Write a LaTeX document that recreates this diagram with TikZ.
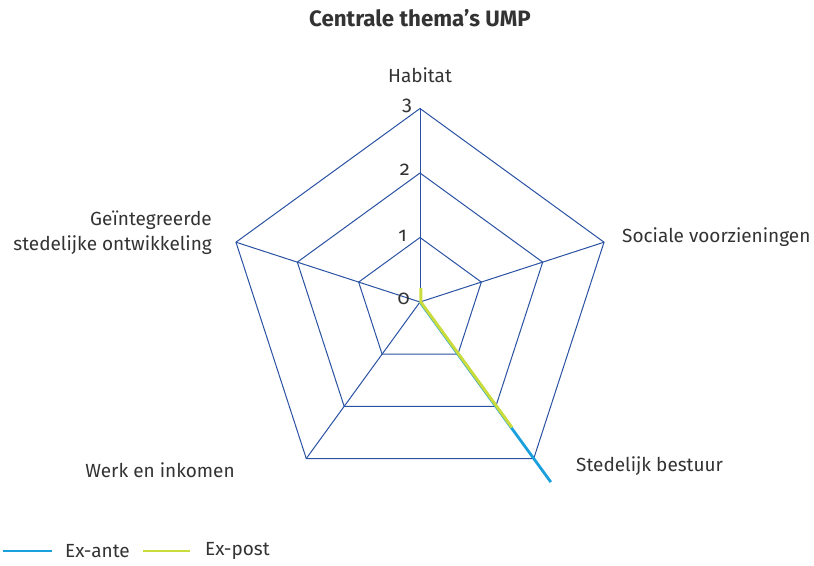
\documentclass[tikz,border=0pt]{standalone}
\usepackage{fontspec}
\setmainfont{Fira Sans}
\newfontfamily\tickfont[Numbers=OldStyle]{Fira Sans}
\definecolor{gridblue}{HTML}{2A52A3}
\definecolor{exante}{HTML}{1AA0DC}
\definecolor{expost}{HTML}{CADC3C}
\definecolor{txt}{HTML}{333333}
\begin{document}
\begin{tikzpicture}[x=1pt,y=-1pt,
  gridline/.style={draw=gridblue,line width=1pt},
  anteline/.style={draw=exante,line width=2.8pt},
  postline/.style={draw=expost,line width=3pt},
  lbl/.style={text=txt,font=\fontsize{19}{23}\selectfont,inner sep=0pt},
  ticklbl/.style={text=txt,font=\tickfont\fontsize{20}{23}\selectfont,inner sep=0pt}]
\useasboundingbox[fill=white] (0,0) rectangle (814,565);
\begin{scope}[shift={(420,302)},y=1pt]
  \coordinate (O) at (0,0);
  \foreach \a [count=\i] in {90,18,-54,-126,162} {
    \coordinate (g1-\i) at (\a:64.5);
    \coordinate (g2-\i) at (\a:129);
    \coordinate (g3-\i) at (\a:193.5);
  }
  \coordinate (ea3) at (-54:222.6);
  \coordinate (ep1) at (90:14);
  \coordinate (ep3) at (-54:155);
\end{scope}
% grid
\foreach \l in {1,2,3} {
  \draw[gridline] (g\l-1) -- (g\l-2) -- (g\l-3) -- (g\l-4) -- (g\l-5) -- cycle;
}
\foreach \i in {1,...,5} { \draw[gridline] (O) -- (g3-\i); }
% data
\draw[anteline] (O) -- (ea3);
\draw[postline] ([xshift=0.8pt]ep1) -- ([xshift=0.8pt]O) -- ([xshift=0.8pt]ep3);
% tick labels
\node[ticklbl,anchor=east] (t3) at (412,106) {3};
\node[ticklbl,anchor=east] (t2) at (410,170) {2};
\node[ticklbl,anchor=east] (t1) at (407,236) {1};
\node[ticklbl,anchor=east] (t0) at (410,299) {0};
% axis labels
\node[lbl,font=\bfseries\fontsize{22.3}{26}\selectfont] (title) at (420,18) {Centrale thema’s UMP};
\node[lbl] (habitat) at (420,75) {Habitat};
\node[lbl,anchor=west] (sociaal) at (622,237) {Sociale voorzieningen};
\node[lbl,anchor=west] (bestuur) at (576,466) {Stedelijk bestuur};
\node[lbl] (werk) at (160,470) {Werk en inkomen};
\node[lbl,align=right,anchor=east,font=\fontsize{19}{25}\selectfont] (geint) at (212,233) {Geïntegreerde\\stedelijke ontwikkeling};
% legend
\coordinate (la1) at (3,551); \coordinate (la2) at (52,551);
\coordinate (lp1) at (143,551); \coordinate (lp2) at (190,551);
\draw[anteline,line width=2.2pt] (la1) -- (la2);
\draw[postline,line width=2.2pt] (lp1) -- (lp2);
\node[lbl,anchor=west] (lante) at (65,551) {Ex-ante};
\node[lbl,anchor=west] (lpost) at (205,551) {Ex-post};
\end{tikzpicture}
\end{document}
